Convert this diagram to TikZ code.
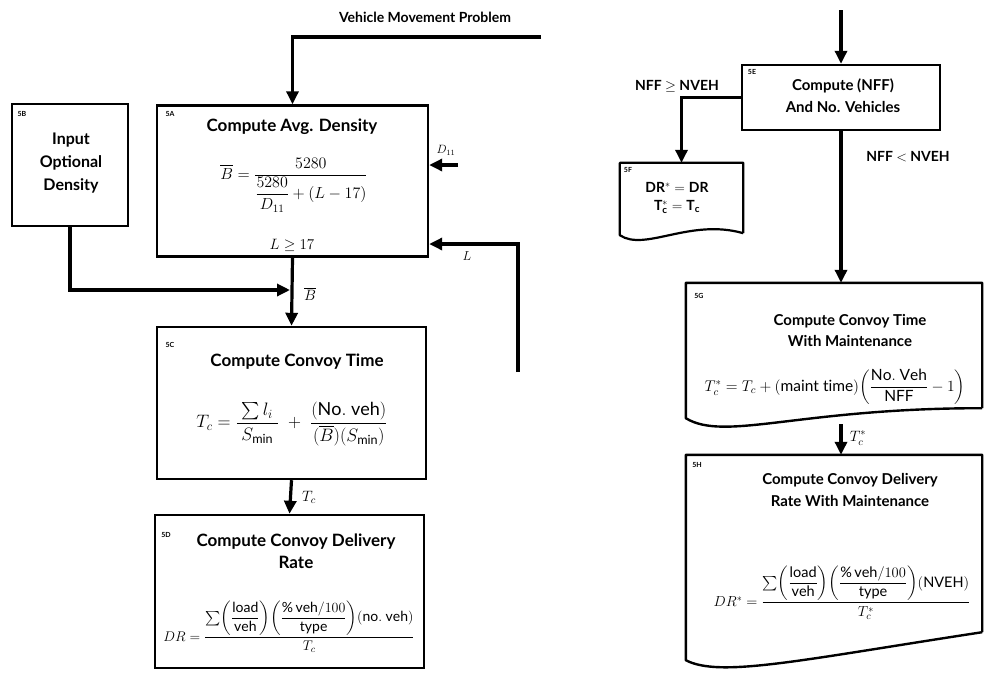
\RequirePackage{fix-cm}
\documentclass[tikz,border=0pt]{standalone}
\usepackage{amsmath}
\usepackage{fontspec}
\setmainfont{Lato}
\usetikzlibrary{arrows.meta,calc}
\newcommand{\Bbarx}{\overline{B}}
\begin{document}
\begin{tikzpicture}[x=1pt,y=-1pt,
  box/.style={draw, line width=2.4pt, inner sep=0pt, anchor=center},
  ghost/.style={inner sep=0pt, anchor=center},
  arr/.style={line width=3.2pt,-{Triangle[length=13pt,width=12pt]}},
  tagt/.style={font=\fontsize{7}{8}\selectfont\bfseries, anchor=center, inner sep=0pt},
  ttl/.style={font=\fontsize{17}{22}\selectfont\bfseries, align=center, inner sep=0pt},
  ttlr/.style={font=\fontsize{15}{22}\selectfont\bfseries, align=center, inner sep=0pt},
  frm/.style={font=\fontsize{15}{18}\selectfont, inner sep=0pt},
  lbl/.style={font=\fontsize{14}{16}\selectfont\bfseries, inner sep=0pt}]
\useasboundingbox (0,0) rectangle (985,673);

% ---------- left column boxes ----------
\node[box, minimum width=116pt, minimum height=122pt] (b5B) at (70,165) {};
\node[box, minimum width=271pt, minimum height=151pt] (b5A) at (292.5,181) {};
\node[box, minimum width=269pt, minimum height=152pt] (b5C) at (291.5,403) {};
\node[box, minimum width=269pt, minimum height=153pt] (b5D) at (289.5,591.5) {};

% 5B
\node[tagt] (t5B) at (22,114) {5B};
\node[font=\fontsize{16}{23}\selectfont\bfseries, align=center, inner sep=0pt] (x5B) at (71,163) {Input\\Optional\\Density};

% 5A
\node[tagt] (t5A) at (170,114) {5A};
\node[ttl] (x5A) at (292,127) {Compute Avg. Density};
\node[frm, font=\fontsize{16}{18}\selectfont] (f5A) at (294,185) {$\Bbarx = \dfrac{5280}{\dfrac{5280}{D_{11}} + (L-17)}$};
\node[frm] (l5A) at (292,245) {$L \geq 17$};

% 5C
\node[tagt] (t5C) at (170,345) {5C};
\node[ttl] (x5C) at (297,362) {Compute Convoy Time};
\node[frm, font=\fontsize{18}{20}\selectfont] (f5C) at (292,424) {$T_c = \dfrac{\;\sum l_i\;}{S_{\mathrm{min}}} \;+\; \dfrac{(\mathrm{No.\ veh})}{(\Bbarx)(S_{\mathrm{min}})}$};

% 5D
\node[tagt] (t5D) at (166,535) {5D};
\node[ttl] (x5D) at (296,551) {Compute Convoy Delivery\\Rate};
\node[frm, font=\fontsize{14}{16}\selectfont] (f5D) at (289,627) {$DR = \dfrac{\sum\!\left(\dfrac{\mathrm{load}}{\mathrm{veh}}\right)\!\left(\dfrac{\%\,\mathrm{veh}/100}{\mathrm{type}}\right)\!(\mathrm{no.\ veh})}{T_c}$};

% ---------- left connectors ----------
\coordinate (vmp) at (541,37);
\node[lbl] (vmpl) at (425,17) {Vehicle Movement Problem};
\draw[arr] (vmp) -| (b5A.north);

\coordinate (mergeB) at (290,290);
\draw[arr] (b5B.south) |- (mergeB);

\draw[arr] (b5A.south) -- (b5C.north);
\node[frm] (lB) at (310,294) {$\Bbarx$};

\draw[arr] (b5C.south) -- (b5D.north);
\node[frm] (lTc) at (309,497) {$T_c$};

\coordinate (d11) at (458,165);
\draw[arr] (d11) -- (d11 -| b5A.east);
\node[frm, font=\fontsize{12}{14}\selectfont] (ld11) at (446,150) {$D_{11}$};

\coordinate (lstart) at (518,372);
\draw[arr] (lstart) |- ($(b5A.east)+(0,63)$);
\node[frm, font=\fontsize{13}{15}\selectfont] (lL) at (467,256) {$L$};

% ---------- right column ----------
\node[box, minimum width=198pt, minimum height=65pt] (b5E) at (841,97.5) {};
\node[tagt] (t5E) at (752,72) {5E};
\node[ttlr] (x5E) at (843,96) {Compute (NFF)\\And No. Vehicles};

\coordinate (top5E) at (841,10);
\draw[arr] (top5E) -- (b5E.north);

% 5F document shape
\node[ghost, minimum width=123pt, minimum height=70pt] (b5F) at (681.5,198) {};
\draw[line width=2.2pt, line join=round] (b5F.south east) -- (b5F.north east) -- (b5F.north west) -- ($(b5F.south west)+(0,2)$)
  .. controls (645,252) and (690,218) .. (b5F.south east);
\node[tagt] (t5F) at (628,170) {5F};
\node[font=\fontsize{14}{18}\selectfont\bfseries, align=center, inner sep=0pt] (x5F) at (677,198) {$\mathbf{DR^{*} = DR}$\\$\mathbf{T_c^{*} = T_c}$};

\draw[arr] (b5E.west) -| (b5F.north);
\node[lbl] (lge) at (677,86) {NFF $\geq$ NVEH};

% 5G document shape
\node[ghost, minimum width=296pt, minimum height=127pt] (b5G) at (834,346.5) {};
\draw[line width=2.4pt, line join=round] ($(b5G.south east)+(0,-2)$) -- (b5G.north east) -- (b5G.north west) -- ($(b5G.south west)+(0,8)$)
  .. controls (725,442) and (800,408) .. ($(b5G.south east)+(0,-2)$);
\node[tagt] (t5G) at (699,296) {5G};
\node[ttlr, font=\fontsize{15}{21}\selectfont\bfseries] (x5G) at (850,330) {Compute Convoy Time\\With Maintenance};
\node[frm, font=\fontsize{15.5}{17}\selectfont] (f5G) at (835,387) {$T_c^{*} = T_c + (\mathrm{maint\ time})\!\left(\dfrac{\mathrm{No.\ Veh}}{\mathrm{NFF}} - 1\right)$};

\draw[arr] (b5E.south) -- (b5E.south |- b5G.north);
\node[lbl] (llt) at (908,157) {NFF $<$ NVEH};

% 5H document shape
\node[ghost, minimum width=296pt, minimum height=180pt] (b5H) at (834,545) {};
\draw[line width=2.4pt, line join=round] ($(b5H.south east)+(0,-3)$) -- (b5H.north east) -- (b5H.north west) -- ($(b5H.south west)+(0,25)$)
  .. controls (720,678) and (800,660) .. ($(b5H.south east)+(0,-3)$);
\node[tagt] (t5H) at (697,465) {5H};
\node[ttlr] (x5H) at (850,490) {Compute Convoy Delivery\\Rate With Maintenance};
\node[frm, font=\fontsize{14.5}{16}\selectfont] (f5H) at (842,593) {$DR^{*} = \dfrac{\sum\!\left(\dfrac{\mathrm{load}}{\mathrm{veh}}\right)\!\left(\dfrac{\%\,\mathrm{veh}/100}{\mathrm{type}}\right)\!(\mathrm{NVEH})}{T_c^{*}}$};

\coordinate (g5bot) at (841,424);
\draw[arr] (g5bot) -- (g5bot |- b5H.north);
\node[frm] (lTs) at (858,438) {$T_c^{*}$};
\end{tikzpicture}
\end{document}
